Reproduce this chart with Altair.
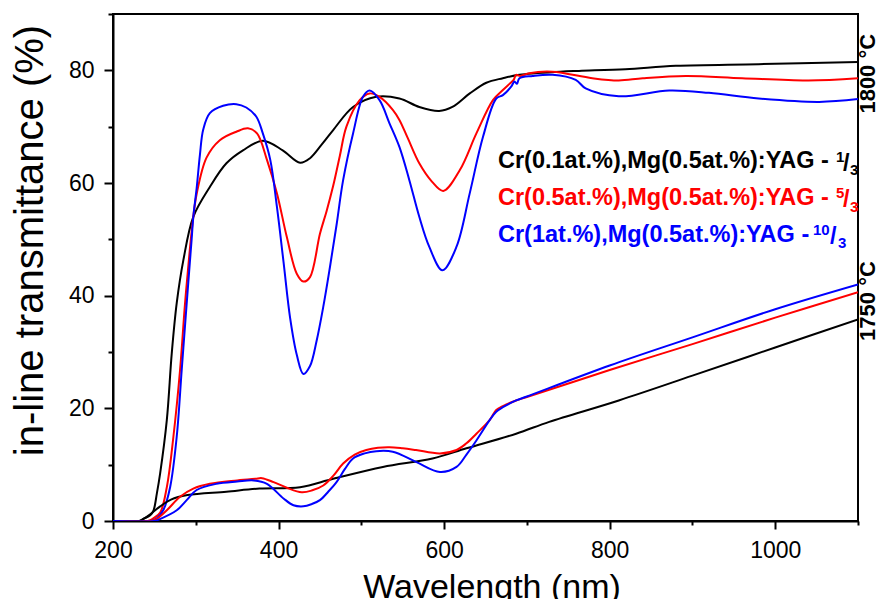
import altair as alt
import pandas as pd

# ---------------- data ----------------
# 1800 °C sintered samples
k18_w = [200, 232, 237, 245, 249, 253, 257, 265, 271, 277, 285, 297, 317, 337, 357, 381, 405, 426, 438, 452,
         466, 490, 518, 546, 570, 594, 610, 631, 651, 671, 691, 740, 763, 819, 880, 980, 1100]
k18_t = [0, 0, 0.4, 1.0, 1.9, 4.9, 8.5, 17.9, 29.8, 38.7, 46.3, 54.0, 59.3, 63.5, 65.8, 67.5, 65.8, 63.6, 64.4, 66.8,
         69.4, 73.5, 75.3, 75.0, 73.5, 72.8, 73.5, 75.9, 77.8, 78.6, 79.2, 79.75, 79.9, 80.2, 80.8, 81.1, 81.5]

r18_w = [200, 242, 249, 257, 265, 273, 281, 287, 293, 297, 301, 313, 329, 349, 363, 374, 386, 398, 410, 422,
         430, 438, 450, 458, 466, 474, 482, 498, 510, 522, 538, 546, 556, 570, 585, 599, 619, 639, 659, 671,
         679, 684, 687, 692, 703, 731, 779, 811, 840, 892, 960, 1040, 1100]
r18_t = [0, 0, 0.5, 1.5, 6, 15, 26.8, 38.6, 48.5, 54.0, 58.0, 64.5, 67.6, 69.1, 69.7, 68.8, 64.1, 58.2, 50.4, 43.9,
         42.5, 43.3, 51.0, 55.0, 59.5, 64.8, 70, 74.7, 75.9, 75.3, 73, 71.2, 68, 63.5, 60.3, 58.6, 62.3, 68.8, 74.7, 76.5,
         77.6, 78.3, 79.2, 79.0, 79.5, 79.75, 78.6, 78.2, 78.6, 79.0, 78.6, 78.2, 78.6]

b18_w = [200, 246, 253, 261, 269, 277, 283, 289, 295, 297, 301, 305, 309, 317, 333, 349, 361, 373, 381, 390,
         398, 406, 414, 422, 430, 438, 446, 454, 462, 470, 478, 490, 502, 510, 522, 534, 546, 558, 570, 582,
         598, 615, 631, 647, 663, 671, 681, 685, 688, 691, 707, 731, 759, 771, 811, 872, 920, 980, 1053, 1100]
b18_t = [0, 0, 0.5, 2, 6, 15, 26.8, 38.6, 50, 54, 59, 65, 69.5, 72.4, 73.7, 74.0, 73.4, 71.8, 68.8, 64.1,
         55.8, 46.0, 36.0, 29.5, 26.1, 27.5, 32.0, 38.0, 45.0, 52.5, 60.5, 68.8, 75.3, 76.4, 74.7, 70.6, 66.4, 60.5, 54, 48.7,
         44.5, 48.7, 58.2, 68.2, 75.0, 75.6, 77.1, 78.0, 77.6, 78.6, 79.0, 79.2, 78.3, 76.8, 75.4, 76.4, 76.0, 75.0, 74.4, 74.9]

# 1750 °C sintered samples
k17_w = [200, 232, 237, 245, 257, 270, 290, 337, 377, 426, 466, 526, 586, 627, 687, 727, 811, 900, 1000, 1100]
k17_t = [0, 0, 0.4, 1.2, 2.6, 3.8, 4.6, 5.2, 5.75, 6.0, 7.5, 9.6, 11.1, 12.9, 15.5, 17.6, 21.4, 25.8, 30.8, 35.8]

r17_w = [200, 245, 252, 265, 281, 297, 317, 350, 372, 380, 394, 410, 428, 440, 454, 466, 478, 492, 506, 520,
         534, 550, 566, 595, 615, 627, 639, 655, 663, 671, 687, 700, 800, 900, 1000, 1100]
r17_t = [0, 0, 0.3, 1.9, 4.3, 5.75, 6.6, 7.2, 7.5, 7.6, 6.9, 5.9, 5.1, 5.4, 6.3, 8.0, 10.2, 11.8, 12.6, 13.0,
         13.1, 12.9, 12.6, 12.0, 12.6, 13.8, 15.5, 17.9, 19.7, 20.4, 21.4, 22.0, 26.8, 31.4, 36.1, 40.6]

b17_w = [200, 250, 256, 277, 289, 301, 325, 350, 370, 386, 406, 418, 430, 440, 450, 460, 470, 480, 490, 504,
         518, 538, 566, 595, 615, 627, 639, 655, 663, 671, 687, 700, 800, 900, 1000, 1100]
b17_t = [0, 0, 0.3, 1.9, 3.7, 5.5, 6.6, 7.0, 7.2, 6.6, 4.0, 2.8, 2.6, 3.0, 3.7, 5.2, 6.9, 9.2, 11.1, 12.0,
         12.4, 12.3, 10.5, 8.7, 9.6, 11.8, 14.3, 17.9, 19.4, 20.2, 21.4, 22.1, 27.6, 32.6, 37.6, 42.0]

x_major_vals = [200, 400, 600, 800, 1000]
x_minor_vals = [300, 500, 700, 900, 1100]
y_major_vals = [0, 20, 40, 60, 80]
y_minor_vals = [10, 30, 50, 70, 90]

legend_texts = ["Cr(0.1at.%),Mg(0.5at.%):YAG - ",
                "Cr(0.5at.%),Mg(0.5at.%):YAG - ",
                "Cr(1at.%),Mg(0.5at.%):YAG - "]
legend_sup = ["1", "5", "10"]
legend_sub = ["3", "3", "3"]
temp_labels = ["1800 °C", "1750 °C"]

BLACK, RED, BLUE = "#000000", "#ff0000", "#0000ff"
FONT = "Liberation Sans"

# ---------------- tables ----------------
series = [
    ("k18", BLACK, k18_w, k18_t), ("r18", RED, r18_w, r18_t), ("b18", BLUE, b18_w, b18_t),
    ("k17", BLACK, k17_w, k17_t), ("r17", RED, r17_w, r17_t), ("b17", BLUE, b17_w, b17_t),
]
rows = []
for name, col, ws, ts in series:
    for w, t in zip(ws, ts):
        rows.append({"series": name, "color": col, "w": w, "t": t})
df = pd.DataFrame(rows)

cols = [BLACK, RED, BLUE]
# legend annotation anchors (data units)
main_w = 665.1
main_t = [62.6, 56.1, 49.6]
sup_w = [1073.4, 1073.4, 1045.6]
sup_t = [63.8, 57.3, 50.8]
sl_w = [1081.9, 1081.9, 1066.2]
sl_t = [62.2, 55.7, 49.2]
sub_w = [1090.3, 1090.3, 1075.9]
sub_t = [61.4, 54.9, 48.4]

ann = []
for i in range(3):
    ann.append({"w": main_w, "t": main_t[i], "text": legend_texts[i], "color": cols[i], "size": 23.5})
    ann.append({"w": sup_w[i], "t": sup_t[i], "text": legend_sup[i], "color": cols[i], "size": 15})
    ann.append({"w": sl_w[i], "t": sl_t[i], "text": "/", "color": cols[i], "size": 23.5})
    ann.append({"w": sub_w[i], "t": sub_t[i], "text": legend_sub[i], "color": cols[i], "size": 15})
ann_df = pd.DataFrame(ann)

temp_df = pd.DataFrame({"w": [1120.3, 1120.3], "t": [79.4, 39.05], "text": temp_labels})

x_scale = alt.Scale(domain=[200, 1100], nice=False, zero=False)
y_scale = alt.Scale(domain=[0, 90], nice=False, zero=False)

common = dict(grid=False, tickColor="black", tickWidth=2, domainColor="black", domainWidth=2,
              labelFont=FONT, labelFontSize=23, labelColor="black", labelFlush=False, labelOverlap=False,
              titleFont=FONT, titleColor="black", titleFontWeight="normal")

x_axis = alt.Axis(values=x_major_vals, orient="bottom", tickSize=8, labelPadding=10,
                  title="Wavelength (nm)", titleFontSize=34, titleX=378.5, titleY=76,
                  titleAlign="center", titleBaseline="alphabetic", format="d", **common)
y_axis = alt.Axis(values=y_major_vals, orient="left", tickSize=9, labelPadding=10,
                  title="in-line transmittance (%)", titleFontSize=40, titleX=-71, titleY=226,
                  titleAngle=270, titleAlign="center", titleBaseline="alphabetic", format="d", **common)
x_minor = alt.Axis(values=x_minor_vals, orient="bottom", tickSize=4, labels=False, domain=False,
                   title="", grid=False, tickColor="black", tickWidth=2)
y_minor = alt.Axis(values=y_minor_vals, orient="left", tickSize=5, labels=False, domain=False,
                   title="", grid=False, tickColor="black", tickWidth=2)

lines = alt.Chart(df).mark_line(strokeWidth=2, interpolate="catmull-rom", clip=True).encode(
    x=alt.X("w:Q", scale=x_scale, axis=x_axis),
    y=alt.Y("t:Q", scale=y_scale, axis=y_axis),
    color=alt.Color("color:N", scale=None),
    detail="series:N",
)

minor = alt.Chart(df).mark_line(opacity=0).encode(
    x=alt.X("w:Q", scale=x_scale, axis=x_minor),
    y=alt.Y("t:Q", scale=y_scale, axis=y_minor),
    detail="series:N",
)

legend = alt.Chart(ann_df).mark_text(align="left", baseline="alphabetic", font=FONT, fontWeight="bold").encode(
    x=alt.X("w:Q", scale=x_scale, axis=None),
    y=alt.Y("t:Q", scale=y_scale, axis=None),
    text="text:N",
    color=alt.Color("color:N", scale=None),
    size=alt.Size("size:Q", scale=None),
)

temps = alt.Chart(temp_df).mark_text(angle=270, align="center", baseline="alphabetic", font=FONT,
                                     fontWeight="bold", fontSize=22, color="black").encode(
    x=alt.X("w:Q", scale=x_scale, axis=None),
    y=alt.Y("t:Q", scale=y_scale, axis=None),
    text="text:N",
)

chart = alt.layer(minor, lines, legend, temps).resolve_axis(
    x="independent", y="independent"
).properties(
    width=745, height=507,
    autosize=alt.AutoSizeParams(type="none"),
    padding={"left": 105, "top": 6, "right": 19, "bottom": 78},
    background="white",
).configure_view(stroke="black", strokeWidth=2)

chart.save("out.html", embed_options={"renderer": "svg", "actions": False})
